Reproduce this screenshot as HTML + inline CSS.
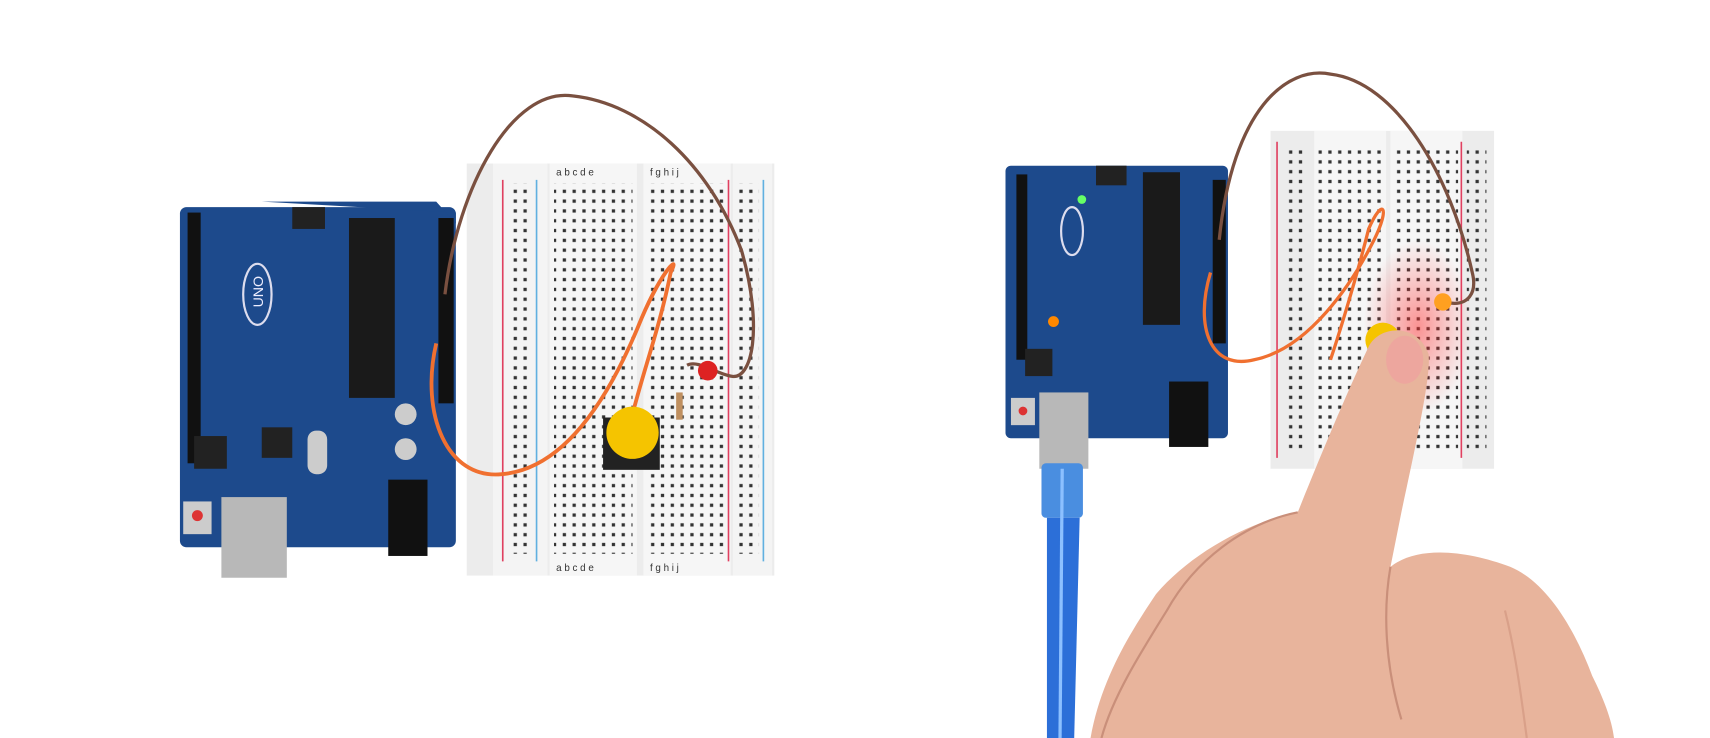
<!DOCTYPE html>
<html><head><meta charset="utf-8"><style>html,body{margin:0;padding:0;background:#fff;width:1710px;height:738px;overflow:hidden}svg{display:block}</style></head>
<body>
<svg width="1710" height="738" viewBox="0 0 1568 677" preserveAspectRatio="none" xmlns="http://www.w3.org/2000/svg">
<defs>
<pattern id="holes" width="9" height="9" patternUnits="userSpaceOnUse"><rect x="3" y="3" width="3" height="3" fill="#333"/></pattern>
<radialGradient id="glow" cx="0.5" cy="0.5" r="0.5"><stop offset="0" stop-color="#ff3030" stop-opacity="0.5"/><stop offset="1" stop-color="#ff3030" stop-opacity="0"/></radialGradient>
</defs>
<rect width="1568" height="677" fill="#fff"/>
<!-- LEFT breadboard -->
<rect x="428" y="150" width="282" height="378" fill="#ececec"/>
<rect x="452" y="150" width="50" height="378" fill="#f4f4f4"/>
<rect x="504" y="150" width="80" height="378" fill="#f6f6f6"/>
<rect x="590" y="150" width="80" height="378" fill="#f6f6f6"/>
<rect x="672" y="150" width="36" height="378" fill="#f4f4f4"/>
<rect x="508" y="168" width="72" height="340" fill="url(#holes)"/>
<rect x="594" y="168" width="72" height="340" fill="url(#holes)"/>
<rect x="466" y="168" width="20" height="340" fill="url(#holes)"/>
<rect x="676" y="168" width="20" height="340" fill="url(#holes)"/>
<line x1="461" y1="165" x2="461" y2="515" stroke="#e04060" stroke-width="1.5"/>
<line x1="492" y1="165" x2="492" y2="515" stroke="#60b0e0" stroke-width="1.5"/>
<line x1="668" y1="165" x2="668" y2="515" stroke="#e04060" stroke-width="1.5"/>
<line x1="700" y1="165" x2="700" y2="515" stroke="#60b0e0" stroke-width="1.5"/>
<text x="510" y="161" font-family="Liberation Sans, sans-serif" font-size="9" fill="#333">a b c d e</text>
<text x="596" y="161" font-family="Liberation Sans, sans-serif" font-size="9" fill="#333">f g h i j</text>
<text x="510" y="524" font-family="Liberation Sans, sans-serif" font-size="9" fill="#333">a b c d e</text>
<text x="596" y="524" font-family="Liberation Sans, sans-serif" font-size="9" fill="#333">f g h i j</text>
<!-- LEFT arduino -->
<rect x="165" y="190" width="253" height="312" rx="6" fill="#1d4a8c"/>
<path d="M240 185 L400 185 L418 205 L418 195 Z" fill="#1d4a8c"/>
<rect x="172" y="195" width="12" height="230" fill="#111"/>
<rect x="402" y="200" width="14" height="170" fill="#111"/>
<rect x="320" y="200" width="42" height="165" fill="#1a1a1a"/>
<rect x="268" y="190" width="30" height="20" fill="#222"/>
<ellipse cx="236" cy="270" rx="13" ry="28" fill="none" stroke="#dde" stroke-width="2"/>
<text x="0" y="0" transform="translate(241,282) rotate(-90)" font-family="Liberation Sans, sans-serif" font-size="13" fill="#eef">UNO</text>
<rect x="240" y="392" width="28" height="28" fill="#222"/>
<rect x="282" y="395" width="18" height="40" rx="8" fill="#ccc"/>
<circle cx="372" cy="380" r="10" fill="#ccc"/><circle cx="372" cy="412" r="10" fill="#ccc"/>
<rect x="356" y="440" width="36" height="70" fill="#111"/>
<rect x="203" y="456" width="60" height="74" fill="#b8b8b8"/>
<rect x="168" y="460" width="26" height="30" fill="#ccc"/><circle cx="181" cy="473" r="5" fill="#d33"/>
<rect x="178" y="400" width="30" height="30" fill="#222"/>
<!-- left wires -->
<path d="M408 270 C420 170,470 80,525 88 C590 95,650 150,680 230 C700 300,690 350,670 345 C655 342,640 330,630 335" fill="none" stroke="#7a5040" stroke-width="3"/>
<path d="M400 315 C385 380,410 440,460 435 C520 430,560 360,585 300 C605 250,625 230,615 250 C605 300,590 340,580 380" fill="none" stroke="#f07030" stroke-width="3.5"/>
<circle cx="649" cy="340" r="9" fill="#d22"/>
<rect x="620" y="360" width="6" height="25" fill="#c09060"/>
<rect x="553" y="383" width="52" height="48" fill="#222"/>
<circle cx="580" cy="397" r="24" fill="#f5c400"/>
<!-- RIGHT breadboard -->
<rect x="1165" y="120" width="205" height="310" fill="#ececec"/>
<rect x="1205" y="120" width="66" height="310" fill="#f6f6f6"/>
<rect x="1275" y="120" width="66" height="310" fill="#f6f6f6"/>
<rect x="1209" y="135" width="58" height="280" fill="url(#holes)"/>
<rect x="1279" y="135" width="58" height="280" fill="url(#holes)"/>
<rect x="1177" y="135" width="18" height="280" fill="url(#holes)"/>
<rect x="1345" y="135" width="18" height="280" fill="url(#holes)"/>
<line x1="1171" y1="130" x2="1171" y2="420" stroke="#e04060" stroke-width="1.5"/>
<line x1="1340" y1="130" x2="1340" y2="420" stroke="#e04060" stroke-width="1.5"/>
<ellipse cx="1300" cy="300" rx="50" ry="80" fill="url(#glow)"/>
<!-- RIGHT arduino -->
<rect x="922" y="152" width="204" height="250" rx="5" fill="#1d4a8c"/>
<rect x="932" y="160" width="10" height="170" fill="#111"/>
<rect x="1112" y="165" width="12" height="150" fill="#111"/>
<rect x="1048" y="158" width="34" height="140" fill="#1a1a1a"/>
<rect x="1005" y="152" width="28" height="18" fill="#222"/>
<ellipse cx="983" cy="212" rx="10" ry="22" fill="none" stroke="#dde" stroke-width="2"/>
<circle cx="992" cy="183" r="4" fill="#6f6"/>
<circle cx="966" cy="295" r="5" fill="#f80"/>
<rect x="1072" y="350" width="36" height="60" fill="#111"/>
<rect x="940" y="320" width="25" height="25" fill="#222"/>
<rect x="927" y="365" width="22" height="25" fill="#ccc"/><circle cx="938" cy="377" r="4" fill="#d33"/>
<rect x="953" y="360" width="45" height="70" fill="#b8b8b8"/>
<!-- usb cable -->
<rect x="955" y="425" width="38" height="50" rx="4" fill="#4a8ee0"/>
<path d="M960 475 L990 475 L985 677 L960 677 Z" fill="#2c6fd8"/>
<line x1="974" y1="430" x2="972" y2="677" stroke="#8cc0ff" stroke-width="3"/>
<!-- right wires -->
<path d="M1118 220 C1130 100,1180 60,1220 68 C1280 75,1330 160,1350 250 C1355 270,1345 280,1330 278" fill="none" stroke="#7a5040" stroke-width="3"/>
<path d="M1110 250 C1095 300,1110 340,1150 330 C1200 320,1240 260,1260 220 C1275 190,1268 180,1255 210 C1245 250,1230 300,1220 330" fill="none" stroke="#f07030" stroke-width="3"/>
<circle cx="1323" cy="277" r="8" fill="#ffa020"/>
<circle cx="1268" cy="312" r="16" fill="#f5c400"/>
<!-- hand -->
<path d="M1255 318 C1265 298,1300 296,1310 325 C1312 345,1300 400,1285 470 L1275 520 C1300 500,1345 505,1385 520 C1420 535,1445 580,1460 620 C1470 640,1478 660,1480 677 L1000 677 C1010 620,1040 575,1060 545 C1090 510,1140 480,1190 470 C1210 420,1235 360,1255 318 Z" fill="#e8b49c"/>
<path d="M1190 470 C1140 480,1095 515,1070 560 C1045 600,1020 640,1010 677" fill="none" stroke="#c98f7a" stroke-width="2"/>
<path d="M1275 520 C1268 560,1270 610,1285 660" fill="none" stroke="#c98f7a" stroke-width="2"/>
<path d="M1380 560 C1390 600,1395 640,1400 677" fill="none" stroke="#d9a089" stroke-width="2"/>
<ellipse cx="1288" cy="330" rx="17" ry="22" fill="#f0a0a0" opacity="0.7"/>
</svg>
</body></html>
